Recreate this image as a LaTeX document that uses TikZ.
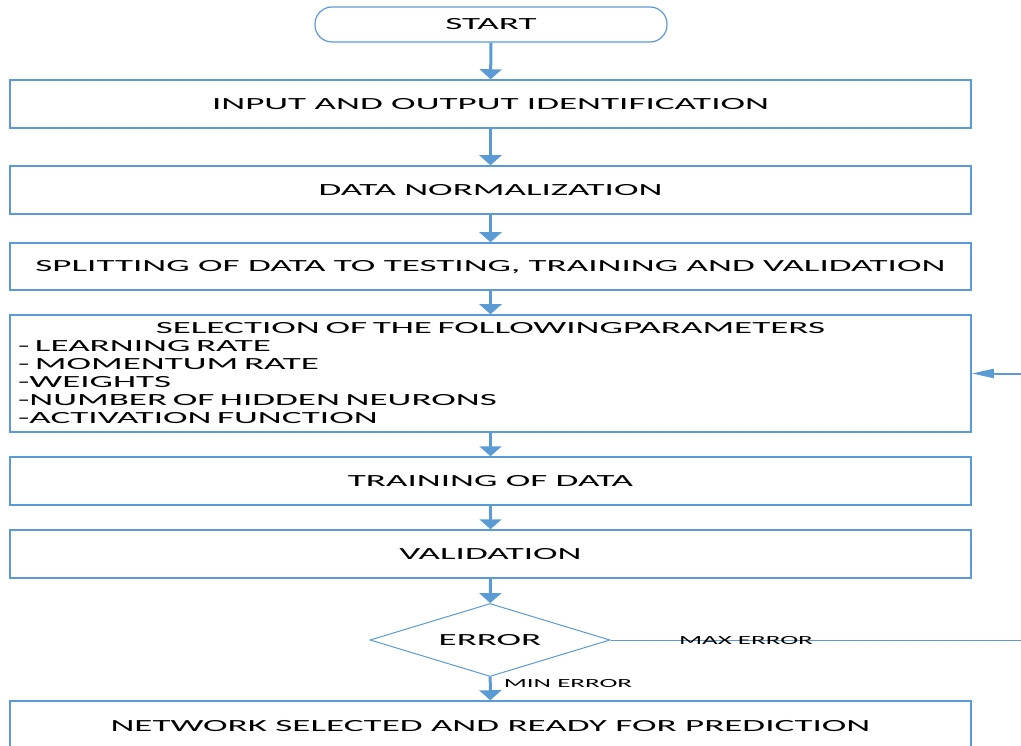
\documentclass[tikz,border=0pt]{standalone}
\usepackage{fontspec}
\setmainfont{Carlito}[FakeStretch=2.18]
\usetikzlibrary{arrows.meta,shapes.geometric,positioning}
\definecolor{flowblue}{RGB}{91,155,213}
\tikzset{
  stepbox/.style={draw=flowblue, line width=1.5pt, minimum width=961pt,
    minimum height=48pt, inner sep=0pt, text height=11pt, text depth=0pt,
    font=\fontsize{17}{18}\selectfont},
  startbox/.style={draw=flowblue, line width=1.2pt, rounded corners=17pt,
    minimum width=352pt, minimum height=35pt, inner sep=0pt,
    text height=11pt, text depth=0pt, font=\fontsize{17}{18}\selectfont},
  decision/.style={draw=flowblue, line width=1pt, diamond, aspect=3.3,
    minimum width=240pt, minimum height=73pt, inner sep=0pt,
    text height=11pt, text depth=0pt, font=\fontsize{17}{18}\selectfont},
  flowarrow/.style={draw=flowblue, line width=3pt,
    -{Triangle[length=10pt,width=22pt]}},
  backarrow/.style={draw=flowblue, line width=2pt,
    -{Triangle[length=22pt,width=9pt]}},
  flowlbl/.style={font=\fontsize{12.4}{13}\selectfont, inner sep=0pt,
    text height=8pt, text depth=0pt}
}
\begin{document}
\begin{tikzpicture}[x=1pt,y=-1pt]
  \clip (0,0) rectangle (1021,746);
  \node[startbox] (start) at (491,24.5) {START};
  \node[stepbox] (ident) at (490.5,104) {INPUT AND OUTPUT IDENTIFICATION};
  \node[stepbox] (norm) at (490.5,190) {DATA NORMALIZATION};
  \node[stepbox, minimum height=47pt] (split) at (490.5,266.5)
    {SPLITTING OF DATA TO TESTING, TRAINING AND VALIDATION};
  \node[stepbox, minimum height=117pt, text height=, text depth=,
    text width=945pt, align=left, inner xsep=8pt] (params) at (490.5,373.5)
    {\makebox[945pt]{SELECTION OF THE FOLLOWINGPARAMETERS}\\
     - LEARNING RATE\\
     - MOMENTUM RATE\\
     -WEIGHTS\\
     -NUMBER OF HIDDEN NEURONS\\
     -ACTIVATION FUNCTION};
  \node[stepbox] (train) at (490.5,481) {TRAINING OF DATA};
  \node[stepbox] (valid) at (490.5,554) {VALIDATION};
  \node[decision] (err) at (490,640) {ERROR};
  \node[stepbox, minimum height=50pt] (ready) at (490.5,726)
    {NETWORK SELECTED AND READY FOR PREDICTION};
  \coordinate (maxend) at (1021,640);
  \coordinate (backin) at (1021,373.5);

  \draw[flowarrow] (start) -- (ident);
  \draw[flowarrow] (ident) -- (norm);
  \draw[flowarrow] (norm) -- (split);
  \draw[flowarrow] (split) -- (params);
  \draw[flowarrow] (params) -- (train);
  \draw[flowarrow] (train) -- (valid);
  \draw[flowarrow] (valid) -- (err);
  \draw[flowarrow] (err) -- node[flowlbl, pos=0.3, right=12pt] {MIN ERROR} (ready);
  \draw[draw=flowblue, line width=1pt] (err.east) -- node[flowlbl, pos=0.33] {MAX ERROR} (maxend);
  \draw[backarrow] (backin) -- (params.east);
\end{tikzpicture}
\end{document}
